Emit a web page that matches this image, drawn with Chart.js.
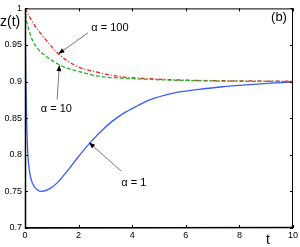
<!DOCTYPE html>
<html>
<head>
<meta charset="utf-8">
<script src="https://cdn.jsdelivr.net/npm/chart.js@4/dist/chart.umd.min.js"></script>
<style>
  html, body { margin: 0; padding: 0; background: #fff; }
  #wrap { width: 300px; height: 247px; }
</style>
</head>
<body>
<div id="wrap"><canvas id="zChart"></canvas></div>
<script>
// t values and z(t) for each alpha
const tBlue = [0, 0.02, 0.04, 0.06, 0.1, 0.165, 0.29, 0.47, 0.62, 0.91, 1.21, 1.58, 1.96, 2.39, 2.82, 3.26, 3.69, 4.2, 4.65, 5.5, 6.5, 7.4, 8.37, 9.2, 10];
const zBlue = [1.0, 0.94, 0.89, 0.85, 0.805, 0.778, 0.76, 0.752, 0.75, 0.7535, 0.762, 0.778, 0.796, 0.815, 0.8315, 0.846, 0.857, 0.867, 0.875, 0.884, 0.8895, 0.893, 0.896, 0.898, 0.8995];

const tGreen = [0, 0.05, 0.15, 0.3, 0.5, 0.7, 1.0, 1.29, 1.6, 2.2, 2.8, 3.5, 4.65, 6, 8, 10];
const zGreen = [1.0, 0.985, 0.97, 0.955, 0.944, 0.937, 0.929, 0.923, 0.918, 0.912, 0.907, 0.905, 0.903, 0.9015, 0.9005, 0.9];

const tRed = [0, 0.32, 0.69, 1.25, 1.93, 2.8, 3.5, 4.65, 6, 8, 10];
const zRed = [1.0, 0.979, 0.961, 0.938, 0.921, 0.912, 0.907, 0.904, 0.902, 0.901, 0.9005];

const xTicks = [0, 2, 4, 6, 8, 10];
const yTicks = [0.7, 0.75, 0.8, 0.85, 0.9, 0.95, 1];

function pts(ts, zs) {
  return ts.map((t, i) => ({ x: t, y: zs[i] }));
}

// labels with arrows: text at (tx,ty), arrow from (ax,ay) to tip (bx,by), all in data units
const notes = [
  { text: 'α = 100', tx: 3.17, ty: 0.973, ax: 2.35, ay: 0.9666, bx: 1.25, by: 0.938 },
  { text: 'α = 10', tx: 1.17, ty: 0.862, ax: 1.2, ay: 0.8756, bx: 1.28, by: 0.9224 },
  { text: 'α = 1', tx: 4.06, ty: 0.762, ax: 3.58, ay: 0.778, bx: 2.39, by: 0.8168 }
];

const frame = {
  id: 'frame',
  afterDraw(chart) {
    const ctx = chart.ctx;
    const a = chart.chartArea;
    const xs = chart.scales.x, ys = chart.scales.y;
    ctx.save();
    ctx.strokeStyle = '#000';
    ctx.lineWidth = 1;
    ctx.strokeRect(a.left + 0.5, a.top + 0.5, a.right - a.left - 1, a.bottom - a.top - 1);
    ctx.lineWidth = 1.5;
    ctx.beginPath();
    ctx.moveTo(a.left + 0.5, a.top); ctx.lineTo(a.left + 0.5, a.bottom);
    ctx.lineTo(a.right, a.bottom - 0.5);
    ctx.stroke();
    // inward ticks on all four sides
    ctx.lineWidth = 1;
    ctx.beginPath();
    xTicks.forEach(v => {
      const px = Math.round(xs.getPixelForValue(v)) + 0.5;
      ctx.moveTo(px, a.bottom); ctx.lineTo(px, a.bottom - 3);
      ctx.moveTo(px, a.top); ctx.lineTo(px, a.top + 3);
    });
    yTicks.forEach(v => {
      const py = Math.round(ys.getPixelForValue(v)) + 0.5;
      ctx.moveTo(a.left, py); ctx.lineTo(a.left + 3, py);
      ctx.moveTo(a.right, py); ctx.lineTo(a.right - 3, py);
    });
    ctx.stroke();

    // annotations
    ctx.font = '11px "Liberation Sans", Arial, sans-serif';
    ctx.textAlign = 'center';
    ctx.textBaseline = 'middle';
    notes.forEach(n => {
      const x0 = xs.getPixelForValue(n.ax), y0 = ys.getPixelForValue(n.ay);
      const x1 = xs.getPixelForValue(n.bx), y1 = ys.getPixelForValue(n.by);
      ctx.strokeStyle = '#777';
      ctx.lineWidth = 1;
      ctx.beginPath(); ctx.moveTo(x0, y0); ctx.lineTo(x1, y1); ctx.stroke();
      const ang = Math.atan2(y1 - y0, x1 - x0);
      ctx.fillStyle = '#000';
      ctx.beginPath();
      ctx.moveTo(x1, y1);
      ctx.lineTo(x1 - 6 * Math.cos(ang) + 2.5 * Math.sin(ang), y1 - 6 * Math.sin(ang) - 2.5 * Math.cos(ang));
      ctx.lineTo(x1 - 6 * Math.cos(ang) - 2.5 * Math.sin(ang), y1 - 6 * Math.sin(ang) + 2.5 * Math.cos(ang));
      ctx.closePath(); ctx.fill();
      ctx.fillText(n.text, xs.getPixelForValue(n.tx), ys.getPixelForValue(n.ty));
    });

    ctx.font = '13px "Liberation Sans", Arial, sans-serif';
    ctx.fillText('(b)', 279, 17);
    ctx.font = '14px "Liberation Sans", Arial, sans-serif';
    ctx.textAlign = 'left';
    ctx.fillText('z(t)', 0, 22);
    ctx.textAlign = 'center';
    ctx.fillText('t', 268, 240);
    ctx.restore();
  }
};

function createZChart() {
  const ctx = document.getElementById('zChart').getContext('2d');
  new Chart(ctx, {
    type: 'scatter',
    data: {
      datasets: [
        {
          label: 'α = 1',
          data: pts(tBlue, zBlue),
          borderColor: '#3a5cff',
          borderWidth: 1.3,
          showLine: true,
          cubicInterpolationMode: 'monotone',
          pointRadius: 0
        },
        {
          label: 'α = 10',
          data: pts(tGreen, zGreen),
          borderColor: '#2fae2f',
          borderWidth: 1.3,
          borderDash: [4, 2],
          showLine: true,
          cubicInterpolationMode: 'monotone',
          pointRadius: 0
        },
        {
          label: 'α = 100',
          data: pts(tRed, zRed),
          borderColor: '#ff1a1a',
          borderWidth: 1.3,
          borderDash: [4, 2, 1, 2],
          showLine: true,
          cubicInterpolationMode: 'monotone',
          pointRadius: 0
        }
      ]
    },
    options: {
      responsive: true,
      maintainAspectRatio: false,
      animation: false,
      layout: { padding: { left: 0, right: 6, top: 4, bottom: 0 } },
      plugins: {
        legend: { display: false },
        tooltip: { enabled: false }
      },
      scales: {
        x: {
          type: 'linear',
          min: 0,
          max: 10,
          afterBuildTicks: s => { s.ticks = xTicks.map(v => ({ value: v })); },
          afterFit: s => { s.height = 19; },
          grid: { display: false, drawTicks: false },
          border: { display: false },
          ticks: {
            padding: 2,
            color: '#000',
            font: { size: 9, family: '"Liberation Sans", Arial, sans-serif' },
            maxRotation: 0
          }
        },
        y: {
          type: 'linear',
          min: 0.7,
          max: 1,
          afterBuildTicks: s => { s.ticks = yTicks.map(v => ({ value: v })); },
          afterFit: s => { s.width = 25; },
          grid: { display: false, drawTicks: false },
          border: { display: false },
          ticks: {
            padding: 3,
            color: '#000',
            font: { size: 9, family: '"Liberation Sans", Arial, sans-serif' },
            callback: v => String(+v.toFixed(2))
          }
        }
      }
    },
    plugins: [frame]
  });
}

document.addEventListener('DOMContentLoaded', function() {
  createZChart();
});
</script>
</body>
</html>
